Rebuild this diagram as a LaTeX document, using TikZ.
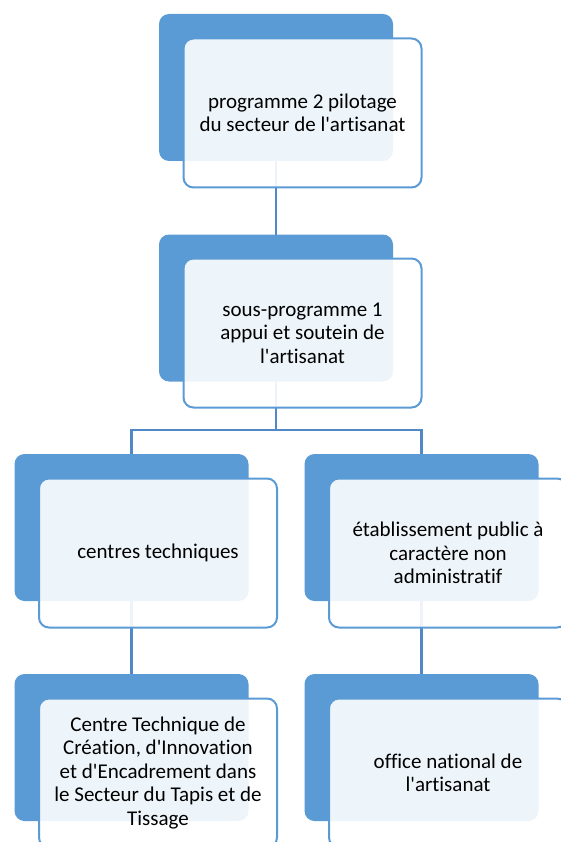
\documentclass[tikz,border=0pt]{standalone}
\usepackage{fontspec}
\setmainfont{Carlito}[Ligatures={TeXOff,NoCommon}]
\definecolor{accent}{HTML}{5B9BD5}
\definecolor{connblue}{HTML}{5189C8}
\begin{document}
\begin{tikzpicture}[x=1pt,y=-1pt,
  backbox/.style={draw=none,fill=accent,rounded corners=10pt,minimum width=234pt,minimum height=147pt,inner sep=0pt,outer sep=0pt},
  frontbox/.style={draw=accent,line width=2pt,fill=white,fill opacity=0.9,text opacity=1,rounded corners=10pt,minimum width=238pt,minimum height=149pt,inner sep=0pt,outer sep=0pt,align=center,font=\fontsize{21}{23.5}\selectfont,text=black},
  conn/.style={draw=connblue,line width=2.2pt}]
\useasboundingbox (0,0) rectangle (560,842);
% back boxes
\node[backbox] (b1) at (276,87.5) {};
\node[backbox] (b2) at (276,308) {};
\node[backbox] (b3) at (131.5,527.5) {};
\node[backbox] (b4) at (421.5,527.5) {};
\node[backbox] (b5) at (131.5,747.5) {};
\node[backbox] (b6) at (421.5,747.5) {};
% connectors
\coordinate (j) at (276,430);
\draw[conn] (b1.south) -- (b2.north);
\draw[conn] (b2.south) -- (j);
\draw[conn] (b3.north) |- (j) -| (b4.north);
\draw[conn] (b3.south) -- (b5.north);
\draw[conn] (b4.south) -- (b6.north);
% front boxes
\node[frontbox] (f1) at (302.5,113) {programme 2 pilotage\\du secteur de l'artisanat};
\node[frontbox] (f2) at (302.5,333) {sous-programme 1\\appui et soutein de\\l'artisanat};
\node[frontbox] (f3) at (158,553) {centres techniques};
\node[frontbox] (f4) at (448,553) {établissement public à\\caractère non\\administratif};
\node[frontbox] (f5) at (158,773) {Centre Technique de\\Création, d'Innovation\\et d'Encadrement dans\\le Secteur du Tapis et de\\Tissage};
\node[frontbox] (f6) at (448,773) {office national de\\l'artisanat};
\end{tikzpicture}
\end{document}
